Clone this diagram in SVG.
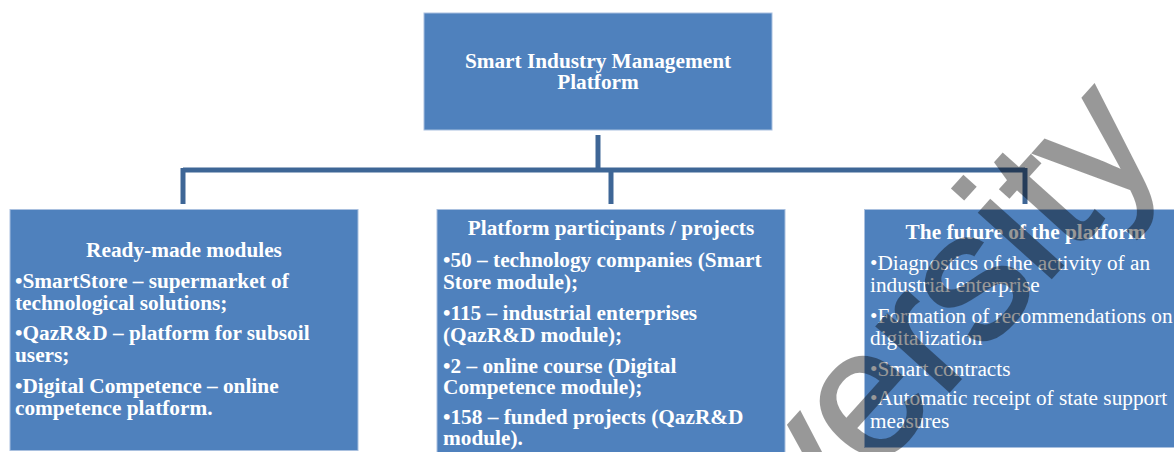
<svg xmlns="http://www.w3.org/2000/svg" width="1174" height="452" viewBox="0 0 1174 452">
<style>
.box{fill:#4F81BD;stroke:#A9C0DF;stroke-width:1}
.t{font-family:"Liberation Serif","Times New Roman",serif;font-size:21.3px;fill:#FFFFFF}
.b{font-weight:bold}
.c{text-anchor:middle}
.conn{fill:none;stroke:#3E6696;stroke-width:5;stroke-linecap:butt}
.wm{font-family:"Liberation Sans",Arial,sans-serif;font-size:184px;fill:#000000;stroke:#000000;stroke-width:2.5}
</style>
<rect width="1174" height="452" fill="#FFFFFF"/>
<g id="connectors">
<line class="conn" x1="598" y1="135" x2="598" y2="170"/>
<line class="conn" x1="183" y1="170" x2="1025" y2="170"/>
<line class="conn" x1="183" y1="168" x2="183" y2="204"/>
<line class="conn" x1="611" y1="168" x2="611" y2="204"/>
<line class="conn" x1="1025" y1="168" x2="1025" y2="204"/>
</g>
<g id="node-top">
<rect class="box" x="424" y="13" width="348" height="117"/>
<text class="t b c" x="598" y="67.5">Smart Industry Management</text>
<text class="t b c" x="598" y="89">Platform</text>
</g>
<g id="node-modules">
<rect class="box" x="10" y="209.5" width="348" height="241"/>
<text class="t b c" x="184" y="257">Ready-made modules</text>
<text class="t b" x="15" y="287.5">•SmartStore – supermarket of</text>
<text class="t b" x="15" y="309.5">technological solutions;</text>
<text class="t b" x="15" y="339.5">•QazR&amp;D – platform for subsoil</text>
<text class="t b" x="15" y="361.5">users;</text>
<text class="t b" x="15" y="392.5">•Digital Competence – online</text>
<text class="t b" x="15" y="415">competence platform.</text>
</g>
<g id="node-participants">
<rect class="box" x="437" y="209.5" width="348" height="250"/>
<text class="t b c" x="611" y="235">Platform participants / projects</text>
<text class="t b" x="443" y="266.7">•50 – technology companies (Smart</text>
<text class="t b" x="443" y="289">Store module);</text>
<text class="t b" x="443" y="320">•115 – industrial enterprises</text>
<text class="t b" x="443" y="341.7">(QazR&amp;D module);</text>
<text class="t b" x="443" y="372.7">•2 – online course (Digital</text>
<text class="t b" x="443" y="394">Competence module);</text>
<text class="t b" x="443" y="424">•158 – funded projects (QazR&amp;D</text>
<text class="t b" x="443" y="445">module).</text>
</g>
<g id="node-future">
<rect class="box" x="864.5" y="209.5" width="330" height="238"/>
<text class="t b c" x="1025.5" y="239.3">The future of the platform</text>
<text class="t" x="870" y="270">•Diagnostics of the activity of an</text>
<text class="t" x="870" y="292.3">industrial enterprise</text>
<text class="t" x="870" y="323.3">•Formation of recommendations on</text>
<text class="t" x="870" y="345">digitalization</text>
<text class="t" x="870" y="376">•Smart contracts</text>
<text class="t" x="870" y="405">•Automatic receipt of state support</text>
<text class="t" x="870" y="427.7">measures</text>
</g>
<g id="watermark" opacity="0.4">
<text class="wm" x="811" y="545" transform="rotate(-48 811 545)">versity</text>
</g>
</svg>
